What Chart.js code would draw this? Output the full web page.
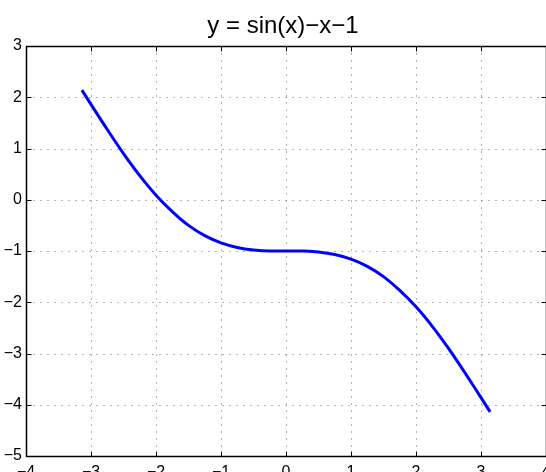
<!DOCTYPE html>
<html>
<head>
<meta charset="utf-8">
<script src="https://cdn.jsdelivr.net/npm/chart.js@4/dist/chart.umd.min.js"></script>
<style>
  html, body { margin: 0; padding: 0; background: #fff; }
  #wrap { width: 546px; height: 472px; }
</style>
</head>
<body>
<div id="wrap"><canvas id="curveChart"></canvas></div>
<script>
// y = sin(x) - x - 1 sampled on [-pi, pi]
const xValues = [-3.14, -3.0, -2.75, -2.5, -2.25, -2.0, -1.75, -1.5, -1.25, -1.0, -0.75, -0.5, -0.25,
                 0, 0.25, 0.5, 0.75, 1.0, 1.25, 1.5, 1.75, 2.0, 2.25, 2.5, 2.75, 3.0, 3.14];
const yValues = [2.14, 1.86, 1.37, 0.90, 0.47, 0.09, -0.23, -0.50, -0.70, -0.84, -0.93, -0.98, -1.00,
                 -1.00, -1.00, -1.02, -1.07, -1.16, -1.30, -1.50, -1.77, -2.09, -2.47, -2.90, -3.37, -3.86, -4.14];
const xTicks = [-4, -3, -2, -1, 0, 1, 2, 3, 4];
const yTicks = [-5, -4, -3, -2, -1, 0, 1, 2, 3];
const titleText = 'y = sin(x)\u2212x\u22121';

const points = xValues.map((x, i) => ({ x: x, y: yValues[i] }));
const minus = v => String(v).replace('-', '\u2212');

// dotted grid, inward ticks on all four sides and the box
const boxPlugin = {
    id: 'box',
    afterLayout(chart) {
        // plot box runs to the right edge of the canvas
        chart.chartArea.right = chart.width;
        chart.scales.x.right = chart.width;
        chart.scales.x.width = chart.width - chart.scales.x.left;
        chart.scales.x.configure();
    },
    beforeDatasetsDraw(chart) {
        const ctx = chart.ctx;
        const a = chart.chartArea;
        const xs = chart.scales.x, ys = chart.scales.y;
        const px = v => Math.round(xs.getPixelForValue(v)) + 0.5;
        const py = v => Math.round(ys.getPixelForValue(v)) + 0.5;
        const L = Math.round(a.left) + 0.5, R = Math.round(a.right) + 0.5;
        const T = Math.round(a.top) + 0.5, B = Math.round(a.bottom) + 0.5;
        ctx.save();
        ctx.lineWidth = 1;
        ctx.strokeStyle = '#666';
        ctx.setLineDash([1, 6]);
        xTicks.slice(1, -1).forEach(v => {
            ctx.beginPath(); ctx.moveTo(px(v), T); ctx.lineTo(px(v), B); ctx.stroke();
        });
        yTicks.slice(1, -1).forEach(v => {
            ctx.beginPath(); ctx.moveTo(L, py(v)); ctx.lineTo(R, py(v)); ctx.stroke();
        });
        ctx.setLineDash([]);
        ctx.strokeStyle = '#000';
        const tl = 5;
        xTicks.forEach(v => {
            ctx.beginPath();
            ctx.moveTo(px(v), B); ctx.lineTo(px(v), B - tl);
            ctx.moveTo(px(v), T); ctx.lineTo(px(v), T + tl);
            ctx.stroke();
        });
        yTicks.forEach(v => {
            ctx.beginPath();
            ctx.moveTo(L, py(v)); ctx.lineTo(L + tl, py(v));
            ctx.moveTo(R, py(v)); ctx.lineTo(R - tl, py(v));
            ctx.stroke();
        });
        ctx.lineWidth = 1.5;
        ctx.strokeRect(L, T, R - L, B - T);
        ctx.restore();
    },
    afterDraw(chart) {
        const ctx = chart.ctx;
        const a = chart.chartArea;
        ctx.save();
        ctx.fillStyle = '#000';
        ctx.font = '24px "Liberation Sans", Arial, sans-serif';
        ctx.textAlign = 'center';
        ctx.textBaseline = 'alphabetic';
        ctx.fillText(titleText, (a.left + a.right) / 2 - 3, 33);
        ctx.restore();
    }
};

const ctx = document.getElementById('curveChart').getContext('2d');
new Chart(ctx, {
    type: 'line',
    data: {
        datasets: [{
            data: points,
            borderColor: '#0000ff',
            backgroundColor: 'transparent',
            borderWidth: 3,
            cubicInterpolationMode: 'monotone',
            pointRadius: 0
        }]
    },
    options: {
        responsive: true,
        maintainAspectRatio: false,
        animation: false,
        layout: {
            autoPadding: false,
            padding: { top: 46, right: 0, bottom: 0, left: 0 }
        },
        plugins: {
            legend: { display: false },
            tooltip: { enabled: false }
        },
        scales: {
            x: {
                type: 'linear',
                min: -4,
                max: 4,
                afterFit: s => { s.height = 16; },
                afterBuildTicks: s => { s.ticks = xTicks.map(v => ({ value: v })); },
                grid: { display: false, drawTicks: false },
                border: { display: false },
                ticks: {
                    color: '#000',
                    padding: 7,
                    maxRotation: 0,
                    autoSkip: false,
                    font: { family: '"Liberation Sans", Arial, sans-serif', size: 16 },
                    callback: v => minus(v)
                }
            },
            y: {
                type: 'linear',
                min: -5,
                max: 3,
                afterFit: s => { s.width = 26; },
                afterBuildTicks: s => { s.ticks = yTicks.map(v => ({ value: v })); },
                grid: { display: false, drawTicks: false },
                border: { display: false },
                ticks: {
                    color: '#000',
                    padding: 4,
                    autoSkip: false,
                    font: { family: '"Liberation Sans", Arial, sans-serif', size: 16 },
                    callback: v => minus(v)
                }
            }
        }
    },
    plugins: [boxPlugin]
});
</script>
</body>
</html>
